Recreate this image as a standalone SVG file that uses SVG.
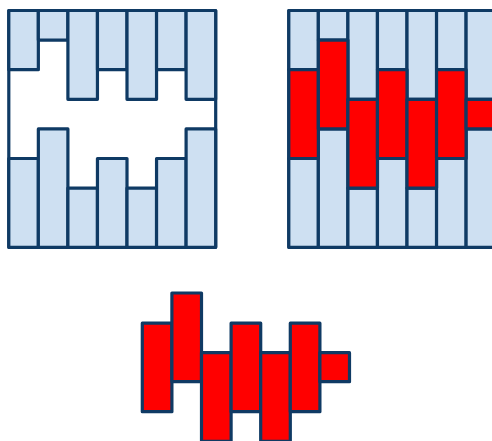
<svg xmlns="http://www.w3.org/2000/svg" width="492" height="441" viewBox="0 0 492 441">
  <style>
    .frame, .blue, .red { stroke: #0F3A64; stroke-width: 3.2; stroke-linejoin: round; }
    .frame { fill: #FFFFFF; }
    .blue { fill: #CEE0F2; }
    .red { fill: #FF0000; }
  </style>

  <g id="left-panel">
    <rect class="frame" x="8.8" y="10.5" width="206.9" height="236.8"/>
    <g id="left-top-pieces">
      <rect class="blue" x="8.8" y="10.5" width="29.55" height="59.2"/>
      <rect class="blue" x="38.35" y="10.5" width="29.55" height="29.6"/>
      <rect class="blue" x="67.9" y="10.5" width="29.55" height="88.8"/>
      <rect class="blue" x="97.45" y="10.5" width="29.55" height="59.2"/>
      <rect class="blue" x="127.0" y="10.5" width="29.55" height="88.8"/>
      <rect class="blue" x="156.55" y="10.5" width="29.55" height="59.2"/>
      <rect class="blue" x="186.1" y="10.5" width="29.55" height="88.8"/>
    </g>
    <g id="left-bottom-pieces">
      <rect class="blue" x="8.8" y="158.5" width="29.55" height="88.8"/>
      <rect class="blue" x="38.35" y="128.9" width="29.55" height="118.4"/>
      <rect class="blue" x="67.9" y="188.1" width="29.55" height="59.2"/>
      <rect class="blue" x="97.45" y="158.5" width="29.55" height="88.8"/>
      <rect class="blue" x="127.0" y="188.1" width="29.55" height="59.2"/>
      <rect class="blue" x="156.55" y="158.5" width="29.55" height="88.8"/>
      <rect class="blue" x="186.1" y="128.9" width="29.55" height="118.4"/>
    </g>
  </g>

  <g id="right-panel">
    <rect class="frame" x="288.8" y="10.5" width="206.9" height="236.8"/>
    <g id="right-top-pieces">
      <rect class="blue" x="288.8" y="10.5" width="29.55" height="59.2"/>
      <rect class="blue" x="318.35" y="10.5" width="29.55" height="29.6"/>
      <rect class="blue" x="347.9" y="10.5" width="29.55" height="88.8"/>
      <rect class="blue" x="377.45" y="10.5" width="29.55" height="59.2"/>
      <rect class="blue" x="407.0" y="10.5" width="29.55" height="88.8"/>
      <rect class="blue" x="436.55" y="10.5" width="29.55" height="59.2"/>
      <rect class="blue" x="466.1" y="10.5" width="29.55" height="88.8"/>
    </g>
    <g id="right-bottom-pieces">
      <rect class="blue" x="288.8" y="158.5" width="29.55" height="88.8"/>
      <rect class="blue" x="318.35" y="128.9" width="29.55" height="118.4"/>
      <rect class="blue" x="347.9" y="188.1" width="29.55" height="59.2"/>
      <rect class="blue" x="377.45" y="158.5" width="29.55" height="88.8"/>
      <rect class="blue" x="407.0" y="188.1" width="29.55" height="59.2"/>
      <rect class="blue" x="436.55" y="158.5" width="29.55" height="88.8"/>
      <rect class="blue" x="466.1" y="128.9" width="29.55" height="118.4"/>
    </g>
    <g id="right-red-pieces">
      <rect class="red" x="288.8" y="69.7" width="29.55" height="88.8"/>
      <rect class="red" x="318.35" y="40.1" width="29.55" height="88.8"/>
      <rect class="red" x="347.9" y="99.3" width="29.55" height="88.8"/>
      <rect class="red" x="377.45" y="69.7" width="29.55" height="88.8"/>
      <rect class="red" x="407.0" y="99.3" width="29.55" height="88.8"/>
      <rect class="red" x="436.55" y="69.7" width="29.55" height="88.8"/>
      <rect class="red" x="466.1" y="99.3" width="29.55" height="29.6"/>
    </g>
  </g>

  <g id="extracted-shape">
    <rect class="red" x="142.3" y="323.2" width="29.6" height="88.5"/>
    <rect class="red" x="171.9" y="293.0" width="29.6" height="88.7"/>
    <rect class="red" x="201.5" y="352.7" width="29.6" height="88.6"/>
    <rect class="red" x="231.1" y="323.2" width="29.6" height="88.5"/>
    <rect class="red" x="260.7" y="352.7" width="29.6" height="88.6"/>
    <rect class="red" x="290.3" y="323.2" width="29.6" height="88.5"/>
    <rect class="red" x="319.9" y="352.7" width="29.6" height="29.0"/>
  </g>
</svg>
